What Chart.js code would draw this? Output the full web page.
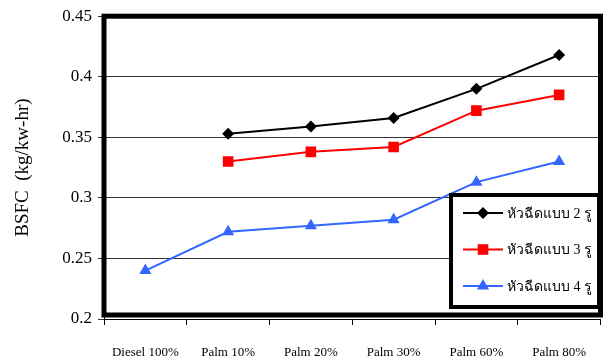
<!DOCTYPE html>
<html>
<head>
<meta charset="utf-8">
<script src="https://cdn.jsdelivr.net/npm/chart.js@4"></script>
<style>
  body { margin: 0; background: #fff; }
  #wrap { width: 608px; height: 360px; }
</style>
</head>
<body>
<div id="wrap"><canvas id="bsfcChart" width="608" height="360"></canvas></div>
<script>
// chart data
const categories = ['Diesel 100%', 'Palm 10%', 'Palm 20%', 'Palm 30%', 'Palm 60%', 'Palm 80%'];
const seriesNames = ['หัวฉีดแบบ 2 รู', 'หัวฉีดแบบ 3 รู', 'หัวฉีดแบบ 4 รู'];
const nozzle2 = [null, 0.353, 0.359, 0.366, 0.390, 0.418];
const nozzle3 = [null, 0.330, 0.338, 0.342, 0.372, 0.385];
const nozzle4 = [0.240, 0.272, 0.277, 0.282, 0.313, 0.330];
const yTicks = [0.2, 0.25, 0.3, 0.35, 0.4, 0.45];

const serif = "'Liberation Serif', 'Times New Roman', serif";

// thick border round the plot area
const plotFrame = {
    id: 'plotFrame',
    beforeDatasetsDraw(chart) {
        const a = chart.chartArea;
        const ctx = chart.ctx;
        ctx.save();
        ctx.strokeStyle = '#000';
        ctx.lineWidth = 5;
        ctx.strokeRect(a.left, a.top, a.right - a.left, a.bottom - a.top - 4);
        ctx.restore();
    }
};

// boxed legend inside the plot, bottom right
const boxLegend = {
    id: 'boxLegend',
    afterDraw(chart) {
        const ctx = chart.ctx;
        const x0 = 451, y0 = 195, w = 148, h = 112;
        ctx.save();
        ctx.fillStyle = '#fff';
        ctx.fillRect(x0, y0, w, h);
        ctx.strokeStyle = '#000';
        ctx.lineWidth = 4;
        ctx.strokeRect(x0, y0, w, h);
        chart.data.datasets.forEach((ds, i) => {
            const y = 213 + i * 36.5;
            ctx.strokeStyle = ds.borderColor;
            ctx.lineWidth = 2;
            ctx.beginPath();
            ctx.moveTo(463, y);
            ctx.lineTo(503, y);
            ctx.stroke();
            ctx.fillStyle = ds.backgroundColor;
            Chart.helpers.drawPoint(ctx, {
                pointStyle: ds.pointStyle,
                radius: ds.pointRadius,
                rotation: 0,
                borderWidth: 0
            }, 483, y);
            // shrink the font until the label fits the box
            let size = 16;
            ctx.font = size + 'px ' + serif;
            while (ctx.measureText(ds.label).width > 85 && size > 9) {
                size -= 0.5;
                ctx.font = size + 'px ' + serif;
            }
            ctx.fillStyle = '#000';
            ctx.textBaseline = 'middle';
            ctx.fillText(ds.label, 507, y + 1);
        });
        ctx.restore();
    }
};

const ctx = document.getElementById('bsfcChart').getContext('2d');
const bsfcChart = new Chart(ctx, {
    type: 'line',
    data: {
        labels: categories,
        datasets: [{
            label: seriesNames[0],
            data: nozzle2,
            borderColor: '#000000',
            backgroundColor: '#000000',
            borderWidth: 2,
            pointStyle: 'rectRot',
            pointRadius: 6,
            pointBorderWidth: 0
        }, {
            label: seriesNames[1],
            data: nozzle3,
            borderColor: '#ff0000',
            backgroundColor: '#ff0000',
            borderWidth: 2,
            pointStyle: 'rect',
            pointRadius: 7.5,
            pointBorderWidth: 0
        }, {
            label: seriesNames[2],
            data: nozzle4,
            borderColor: '#3366ff',
            backgroundColor: '#3366ff',
            borderWidth: 2,
            pointStyle: 'triangle',
            pointRadius: 7,
            pointBorderWidth: 0
        }]
    },
    options: {
        responsive: false,
        animation: false,
        layout: {
            padding: {left: 0, right: 4, top: 15, bottom: 0}
        },
        plugins: {
            legend: {display: false},
            tooltip: {enabled: false}
        },
        scales: {
            x: {
                offset: true,
                grid: {
                    offset: true,
                    drawOnChartArea: false,
                    color: '#000',
                    tickLength: 6
                },
                border: {color: '#000', width: 1},
                ticks: {
                    color: '#000',
                    font: {family: serif, size: 13},
                    padding: 20,
                    maxRotation: 0,
                    autoSkip: false
                },
                afterFit(scale) {
                    scale.height = 41;
                }
            },
            y: {
                min: 0.2,
                max: 0.45,
                afterBuildTicks(scale) {
                    scale.ticks = yTicks.map(v => ({value: v}));
                },
                grid: {
                    color: '#333',
                    lineWidth: 1,
                    tickLength: 6
                },
                border: {color: '#000', width: 1},
                ticks: {
                    color: '#000',
                    font: {family: serif, size: 17},
                    padding: 6,
                    callback: v => String(+v.toFixed(2))
                },
                title: {
                    display: true,
                    text: 'BSFC  (kg/kw-hr)',
                    color: '#000',
                    font: {family: serif, size: 19},
                    padding: {top: 12, bottom: 0}
                },
                afterFit(scale) {
                    scale.width = 104;
                }
            }
        }
    },
    plugins: [plotFrame, boxLegend]
});
</script>
</body>
</html>
